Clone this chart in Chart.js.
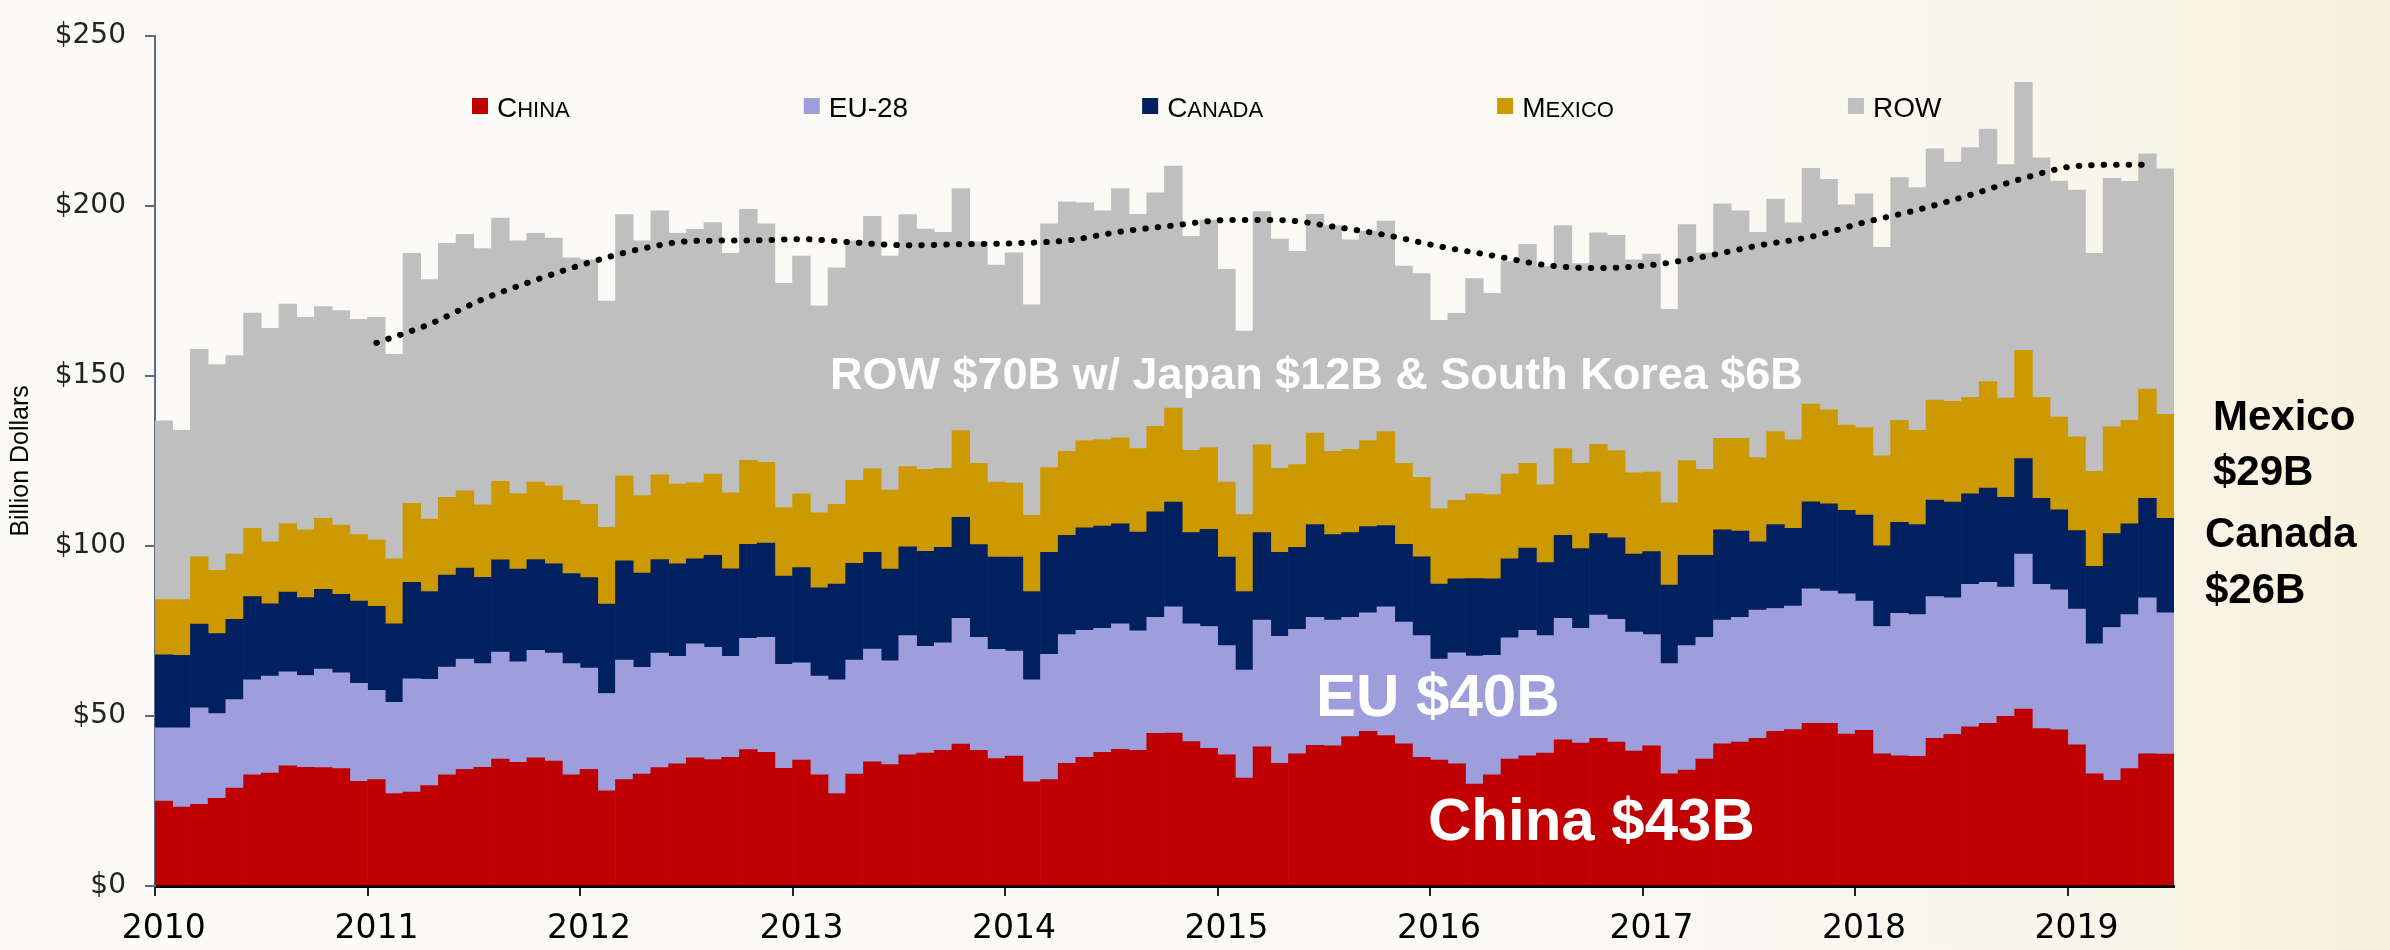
<!DOCTYPE html>
<html>
<head>
<meta charset="utf-8">
<script src="https://cdn.jsdelivr.net/npm/chart.js@4.4.1/dist/chart.umd.min.js"></script>
<style>
  html, body { margin: 0; padding: 0; }
  body {
    width: 2390px; height: 950px; overflow: hidden;
    background: linear-gradient(90deg, #fbfaf7 0%, #faf9f4 62%, #f8f6ea 88%, #f5f1dc 100%);
  }
  #wrap { position: relative; width: 2390px; height: 950px; }
</style>
</head>
<body>
<div id="wrap"><canvas id="chart"></canvas></div>
<script>
// monthly imports, Jan 2010 - Jun 2019, billion dollars
const years = ["2010", "2011", "2012", "2013", "2014", "2015", "2016", "2017", "2018", "2019"];
const monthNames = ["Jan", "Feb", "Mar", "Apr", "May", "Jun", "Jul", "Aug", "Sep", "Oct", "Nov", "Dec"];
const months = [];
years.forEach(y => monthNames.forEach(m => months.push(`${m} ${y}`)));
months.length = 114;

const china = [
  25.0, 23.2, 24.0, 25.8, 28.8, 32.7, 33.2, 35.3, 34.9, 34.8,
  34.5, 30.8, 31.3, 27.2, 27.6, 29.5, 32.7, 34.3, 34.9, 37.3,
  36.4, 37.7, 36.7, 32.7, 34.3, 28.0, 31.3, 32.9, 34.8, 35.9,
  37.7, 37.2, 37.8, 40.1, 39.3, 34.6, 37.0, 32.7, 27.2, 32.9,
  36.5, 35.7, 38.6, 39.1, 39.9, 41.7, 39.9, 37.5, 38.2, 30.6,
  31.3, 36.1, 37.8, 39.3, 40.2, 39.9, 44.9, 45.0, 42.5, 40.5,
  38.6, 31.7, 40.9, 36.1, 38.9, 41.4, 41.2, 43.9, 45.5, 44.2,
  41.8, 37.8, 37.0, 35.9, 30.0, 32.7, 37.3, 38.3, 39.1, 43.0,
  42.0, 43.4, 42.3, 39.7, 41.2, 33.0, 34.1, 37.3, 41.8, 42.3,
  43.4, 45.5, 46.0, 47.8, 47.8, 44.7, 45.8, 38.9, 38.3, 38.1,
  43.4, 44.6, 46.8, 47.8, 49.9, 52.0, 46.3, 45.9, 41.5, 33.0,
  31.1, 34.5, 38.9, 38.8,
];
const eu28 = [
  21.5, 23.3, 28.4, 24.9, 26.0, 27.9, 28.5, 27.7, 27.0, 29.0,
  28.2, 28.8, 26.2, 26.8, 33.3, 31.3, 31.7, 32.4, 30.5, 31.5,
  29.5, 31.6, 31.8, 32.7, 29.8, 28.6, 35.1, 31.4, 33.7, 31.6,
  33.5, 33.0, 29.7, 32.7, 33.8, 30.6, 28.6, 29.0, 33.4, 33.5,
  33.2, 30.5, 35.0, 31.4, 31.6, 37.0, 33.2, 32.1, 30.9, 30.0,
  36.8, 37.8, 37.4, 36.5, 36.9, 35.1, 34.1, 37.1, 34.6, 35.8,
  32.1, 31.8, 37.3, 37.3, 36.6, 37.6, 37.0, 35.1, 34.8, 37.9,
  35.8, 35.8, 29.7, 32.7, 37.6, 35.1, 35.7, 36.9, 34.5, 35.7,
  33.8, 36.3, 36.1, 35.0, 32.7, 32.4, 36.6, 35.8, 36.4, 36.7,
  37.7, 36.1, 36.3, 39.6, 38.9, 41.2, 38.0, 37.4, 41.9, 41.7,
  41.7, 40.1, 41.9, 41.5, 38.0, 45.6, 42.4, 41.2, 39.9, 38.2,
  44.9, 45.3, 45.8, 41.5,
];
const canada = [
  21.5, 21.3, 24.6, 23.5, 23.6, 24.5, 21.3, 23.4, 22.9, 23.4,
  23.1, 24.2, 24.7, 23.1, 28.4, 25.8, 27.0, 26.8, 25.4, 27.1,
  27.3, 26.7, 26.2, 26.5, 26.6, 26.3, 29.2, 27.7, 27.5, 27.2,
  25.0, 27.0, 25.8, 27.7, 27.7, 25.9, 28.0, 26.0, 28.2, 28.5,
  28.4, 27.0, 26.1, 27.9, 28.1, 29.7, 27.3, 27.1, 27.6, 26.0,
  30.0, 29.2, 30.1, 30.0, 29.4, 29.1, 31.0, 30.8, 26.8, 28.6,
  26.0, 23.1, 25.7, 24.7, 24.1, 27.3, 25.1, 24.9, 25.4, 23.9,
  22.9, 23.2, 22.1, 21.7, 22.8, 22.5, 23.2, 24.2, 21.5, 24.4,
  23.4, 23.9, 24.0, 22.9, 24.4, 23.1, 26.5, 24.1, 26.5, 25.4,
  20.1, 24.7, 22.9, 25.6, 25.7, 24.6, 25.3, 23.7, 26.7, 26.5,
  28.4, 28.2, 26.6, 27.7, 26.4, 28.1, 25.3, 23.5, 23.1, 22.8,
  27.6, 26.7, 29.3, 27.8,
];
const mexico = [
  16.2, 16.4, 19.8, 18.6, 19.2, 20.1, 18.2, 20.2, 19.9, 20.9,
  20.3, 19.5, 19.6, 19.1, 23.2, 21.3, 22.9, 22.7, 21.3, 23.1,
  22.2, 22.8, 23.0, 21.5, 21.5, 22.6, 25.0, 22.8, 24.9, 23.5,
  22.4, 23.9, 22.3, 24.7, 23.8, 20.2, 21.7, 22.0, 23.4, 24.4,
  24.6, 23.2, 23.6, 24.1, 23.2, 25.5, 23.9, 22.1, 21.8, 22.4,
  24.9, 24.7, 25.7, 25.5, 25.3, 24.5, 25.2, 27.6, 24.2, 24.0,
  22.1, 22.6, 25.8, 24.7, 24.3, 26.9, 24.5, 24.5, 25.3, 27.6,
  23.8, 23.4, 22.2, 23.1, 24.9, 24.8, 24.9, 24.9, 22.9, 25.5,
  25.1, 26.3, 25.6, 23.9, 23.4, 24.2, 27.9, 25.3, 26.9, 27.2,
  24.8, 27.3, 26.0, 28.7, 27.6, 25.0, 25.7, 26.5, 30.0, 27.7,
  29.4, 29.6, 28.4, 31.3, 29.2, 31.8, 29.7, 27.3, 27.6, 27.9,
  31.4, 30.4, 32.1, 30.6,
];
const row = [
  52.6, 49.8, 61.0, 60.5, 58.4, 63.3, 62.8, 64.5, 62.5, 62.3,
  63.1, 63.3, 65.4, 60.1, 73.5, 70.4, 74.7, 75.4, 75.3, 77.4,
  74.3, 73.1, 72.8, 71.3, 71.9, 66.5, 76.8, 74.9, 77.6, 73.7,
  74.5, 74.0, 70.4, 73.8, 70.1, 65.9, 69.9, 60.9, 69.6, 70.4,
  74.2, 68.8, 74.1, 70.7, 69.4, 71.2, 65.1, 63.8, 67.7, 61.9,
  71.7, 73.4, 69.9, 67.2, 73.3, 68.9, 68.6, 71.2, 62.9, 66.9,
  62.5, 54.0, 68.6, 67.4, 62.7, 64.3, 66.4, 61.6, 61.6, 61.9,
  58.0, 59.9, 55.3, 55.0, 63.3, 59.2, 62.5, 64.4, 64.2, 65.6,
  58.7, 62.2, 63.3, 62.6, 64.1, 56.9, 69.4, 63.7, 69.0, 66.9,
  66.2, 68.4, 63.8, 69.3, 67.8, 64.8, 68.7, 61.3, 71.4, 71.4,
  73.9, 70.4, 73.4, 74.3, 68.6, 78.8, 70.4, 69.4, 72.5, 64.1,
  73.1, 70.3, 69.2, 72.2,
];

// dotted trend of the total, read at these month indexes
const trendMonths = [12, 15, 18, 21, 24, 27, 30, 33, 36, 39, 42, 45, 48, 51, 54, 57, 60,
  63, 66, 69, 72, 75, 78, 81, 84, 87, 90, 93, 96, 99, 102, 105, 108, 111, 112];
const trendValues = [159.7, 165.2, 172.5, 178.2, 183.3, 187.4, 189.7, 189.8, 190.2, 189.2,
  188.4, 188.7, 189.0, 189.8, 192.4, 194.2, 195.8, 195.8, 193.9, 191.4, 188.1, 185.4,
  182.6, 181.7, 182.6, 185.1, 188.3, 190.9, 195.1, 198.8, 203.2, 208.1, 211.7, 212.1, 212.1];

const SERIES = [
  { label: "China", data: china, color: "#c00000" },
  { label: "EU-28", data: eu28, color: "#9e9edc" },
  { label: "Canada", data: canada, color: "#002060" },
  { label: "Mexico", data: mexico, color: "#cc9900" },
  { label: "ROW", data: row, color: "#bfbfbf" },
];

const SANS = '"Liberation Sans", Arial, sans-serif';
const WIDE = '"DejaVu Sans", Verdana, sans-serif';

// ── legend drawn inside the plot, small caps like the original ──
function drawCaps(ctx, text, x, y, big, small) {
  for (const ch of text) {
    const lower = ch !== ch.toUpperCase();
    const c = ch.toUpperCase();
    ctx.font = `${lower ? small : big}px ${SANS}`;
    ctx.fillText(c, x, y);
    x += ctx.measureText(c).width;
  }
  return x;
}

const legendPlugin = {
  id: "insideLegend",
  afterDraw(chart) {
    const ctx = chart.ctx;
    const bars = chart.data.datasets.filter(ds => ds.type !== "line");
    let x = chart.chartArea.left + 317;
    const y = 117;
    ctx.save();
    ctx.textBaseline = "alphabetic";
    ctx.textAlign = "left";
    bars.forEach(ds => {
      ctx.fillStyle = ds.backgroundColor;
      ctx.fillRect(x, 98, 16, 16);
      ctx.fillStyle = "#000";
      const end = drawCaps(ctx, ds.label, x + 25, y, 28, 22);
      x = end + 234;
    });
    ctx.restore();
  },
};

const notesPlugin = {
  id: "notes",
  afterDraw(chart) {
    const ctx = chart.ctx;
    ctx.save();
    ctx.textAlign = "left";
    ctx.textBaseline = "alphabetic";
    ctx.fillStyle = "#fff";
    ctx.font = `bold 45px ${SANS}`;
    ctx.fillText("ROW $70B w/ Japan $12B & South Korea $6B", 830, 389);
    ctx.font = `bold 60px ${SANS}`;
    ctx.fillText("EU $40B", 1316, 716);
    ctx.fillText("China $43B", 1428, 840);
    ctx.fillStyle = "#000";
    ctx.font = `bold 42px ${SANS}`;
    ctx.fillText("Mexico", 2213, 430);
    ctx.fillText("$29B", 2213, 485);
    ctx.fillText("Canada", 2205, 547);
    ctx.fillText("$26B", 2205, 603);
    ctx.restore();
  },
};

const datasets = SERIES.map(s => ({
  label: s.label,
  data: s.data,
  backgroundColor: s.color,
  borderWidth: 0,
  barPercentage: 1,
  categoryPercentage: 1,
  order: 1,
}));

datasets.push({
  type: "line",
  label: "Trend",
  data: trendMonths.map((m, i) => ({ x: months[m], y: trendValues[i] })),
  yAxisID: "yTrend",
  borderColor: "#000",
  borderWidth: 6,
  borderDash: [0.5, 12],
  borderCapStyle: "round",
  pointRadius: 0,
  cubicInterpolationMode: "monotone",
  spanGaps: true,
  fill: false,
  order: 0,
});

new Chart(document.getElementById("chart"), {
  type: "bar",
  data: { labels: months, datasets },
  options: {
    responsive: true,
    maintainAspectRatio: false,
    animation: false,
    layout: { padding: { top: 21, right: 216, left: 0, bottom: 0 } },
    plugins: { legend: { display: false }, tooltip: { enabled: false } },
    scales: {
      x: {
        stacked: true,
        offset: true,
        border: { color: "#000", width: 3 },
        grid: {
          offset: true,
          drawOnChartArea: false,
          tickLength: 10,
          lineWidth: 2,
          color: c => (c.index % 12 === 0 ? "#222" : "rgba(0,0,0,0)"),
        },
        ticks: {
          autoSkip: false,
          maxRotation: 0,
          minRotation: 0,
          padding: 14,
          color: "#000",
          font: { family: WIDE, size: 33 },
          callback: (v, i) => (i % 12 === 0 ? years[i / 12] : ""),
        },
        afterFit: s => { s.height = 64; },
      },
      y: {
        stacked: true,
        min: 0,
        max: 250,
        border: { color: "#5a6a80", width: 2 },
        grid: { drawOnChartArea: false, tickLength: 10, lineWidth: 2, color: "#5a6a80" },
        ticks: {
          stepSize: 50,
          padding: 19,
          color: "#222",
          font: { family: WIDE, size: 28 },
          callback: v => "$" + v,
        },
        title: {
          display: true,
          text: "Billion Dollars",
          color: "#000",
          padding: { top: 6, bottom: 0 },
          font: { family: SANS, size: 25 },
        },
        afterFit: s => { s.width = 155; },
      },
      yTrend: { display: false, min: 0, max: 250 },
    },
  },
  plugins: [legendPlugin, notesPlugin],
});
</script>
</body>
</html>
